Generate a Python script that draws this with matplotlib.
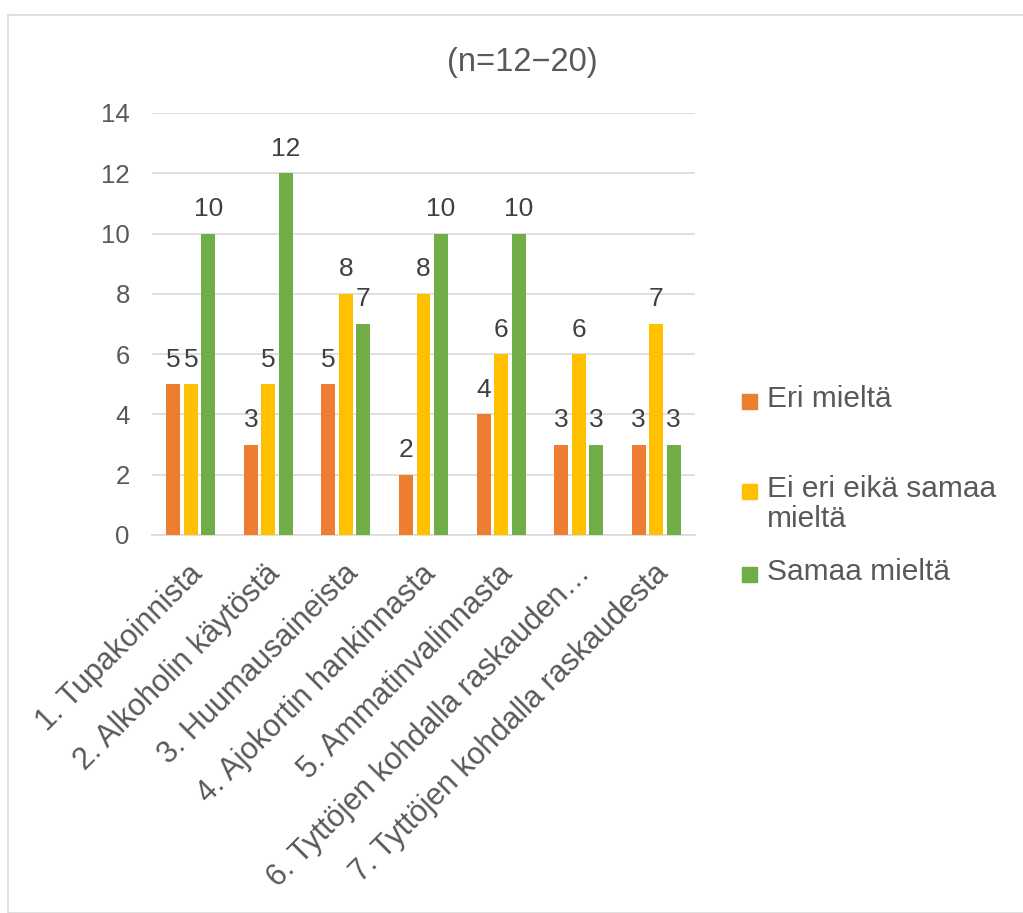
import matplotlib.pyplot as plt
import numpy as np
from matplotlib.patches import Rectangle

plt.rcParams['font.family'] = ['Liberation Sans', 'DejaVu Sans']

categories = ["1. Tupakoinnista", "2. Alkoholin käytöstä", "3. Huumausaineista",
              "4. Ajokortin hankinnasta", "5. Ammatinvalinnasta",
              "6. Tyttöjen kohdalla raskauden…", "7. Tyttöjen kohdalla raskaudesta"]
eri = [5, 3, 5, 2, 4, 3, 3]
ei_eri = [5, 5, 8, 8, 6, 6, 7]
samaa = [10, 12, 7, 10, 10, 3, 3]
series_names = ["Eri mieltä", "Ei eri eikä samaa\nmieltä", "Samaa mieltä"]
colors = ["#ED7D31", "#FFC000", "#70AD47"]
text_color = "#595959"

fig = plt.figure(figsize=(10.23, 9.13), dpi=100)
fig.patches.append(Rectangle((8 / 1023, 0), 1.0, 1 - 15 / 913, transform=fig.transFigure,
                             fill=False, edgecolor="#D9D9D9", linewidth=1.2))
ax = fig.add_axes([152 / 1023, 1 - 535 / 913, 543 / 1023, 422 / 913])

x = np.arange(len(categories))
w = 0.18
step = 0.225
for i, (vals, c) in enumerate(zip([eri, ei_eri, samaa], colors)):
    bars = ax.bar(x + (i - 1) * step, vals, width=w, color=c, zorder=3)
    ax.bar_label(bars, padding=9, fontsize=19, color="#404040")

ax.set_xlim(-0.5, len(categories) - 0.5)
ax.set_ylim(0, 14)
ax.set_yticks(range(0, 15, 2))
ax.yaxis.grid(True, color="#D9D9D9", linewidth=1.2, zorder=0)
ax.tick_params(axis='both', length=0, colors=text_color)
ax.tick_params(axis='y', pad=16, labelsize=18.5)
ax.tick_params(axis='x', pad=17, labelsize=22)
for s in ["left", "right", "top"]:
    ax.spines[s].set_visible(False)
ax.spines["bottom"].set_color("#D9D9D9")
ax.spines["bottom"].set_linewidth(1.2)

ax.set_xticks(x - 0.04)
ax.set_xticklabels(categories, rotation=45, ha='right', va='top', rotation_mode='anchor')

fig.text(522 / 1023, 1 - 63 / 913, "(n=12\u221220)", ha='center', va='center',
         fontsize=23.5, color=text_color)

# legend, handle aligned with first text line like the original
legend_y = [402, 492, 575]
for name, c, ly in zip(series_names, colors, legend_y):
    fig.patches.append(Rectangle((742 / 1023, 1 - (ly + 7) / 913), 15 / 1023, 15 / 913,
                                 transform=fig.transFigure, color=c))
    fig.text(767 / 1023, 1 - (ly - 17) / 913, name, ha='left', va='top',
             fontsize=21.5, color=text_color, linespacing=1.1)

fig.savefig("out.png", dpi=100)
